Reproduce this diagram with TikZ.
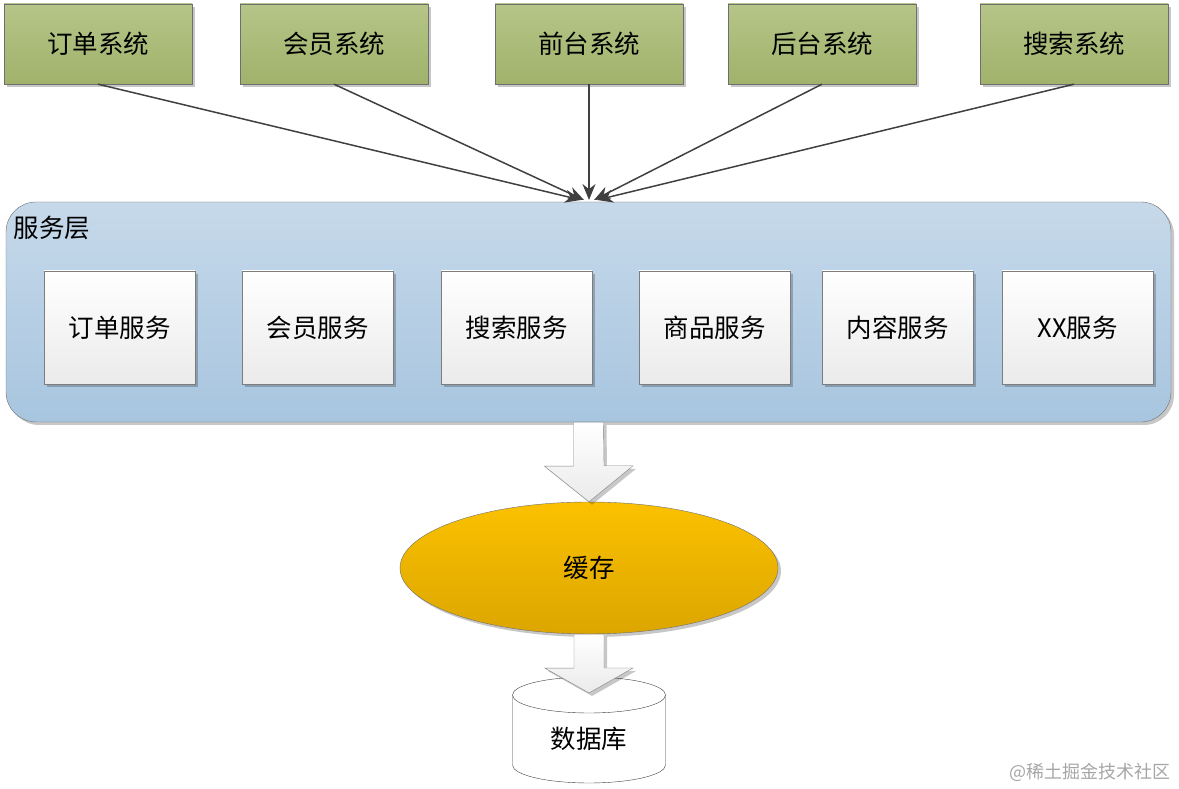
\documentclass[tikz,border=0pt]{standalone}
\usepackage{fontspec}
\setmainfont{Noto Sans CJK SC}
\usetikzlibrary{arrows.meta,shadows,calc,shapes.geometric}
\definecolor{sysgreen}{HTML}{B6C588}
\definecolor{sysgreendark}{HTML}{A0B26B}
\definecolor{layerblue}{HTML}{C6D9EA}
\definecolor{layerbluedark}{HTML}{A8C5DF}
\definecolor{cachegold}{HTML}{FBC100}
\definecolor{cachegolddark}{HTML}{DCA600}
\definecolor{linegray}{HTML}{404040}
\definecolor{edgegray}{HTML}{6E6E6E}
\newcommand{\cnfont}{\fontsize{25.5}{30}\selectfont}

\tikzset{
  softshadow/.style={drop shadow={shadow xshift=3pt,shadow yshift=-3pt,opacity=0.22,fill=black}},
  sysbox/.style={draw=edgegray,top color=sysgreen,bottom color=sysgreendark,
    minimum width=188pt,minimum height=80pt,font=\cnfont,softshadow},
  svcbox/.style={draw=edgegray!90,top color=white,bottom color=black!8,
    minimum width=151pt,minimum height=113pt,font=\cnfont,softshadow},
  layerbox/.style={draw=edgegray,rounded corners=30pt,top color=layerblue,
    bottom color=layerbluedark,minimum width=1165pt,minimum height=220pt,softshadow},
  bigarrow/.style={draw=edgegray!85,top color=white,bottom color=black!8,softshadow},
  feed/.style={draw=linegray,line width=1.5pt,-{Stealth[length=16pt,width=13pt]}}
}

\begin{document}
\begin{tikzpicture}[x=1pt,y=1pt]
\useasboundingbox (0,0) rectangle (1179,789);

% systems on top
\node[sysbox] (order)  at (98,745)   {订单系统};
\node[sysbox] (member) at (334,745)  {会员系统};
\node[sysbox] (front)  at (589,745)  {前台系统};
\node[sysbox] (back)   at (822,745)  {后台系统};
\node[sysbox] (search) at (1074,745) {搜索系统};

% service layer
\node[layerbox] (layer) at (588.5,477) {};
\node[anchor=west,font=\cnfont] (layertitle) at (10,561) {服务层};
\node[svcbox] (svcorder)   at (119.5,461.5)  {订单服务};
\node[svcbox] (svcmember)  at (317.5,461.5)  {会员服务};
\node[svcbox] (svcsearch)  at (516.5,461.5)  {搜索服务};
\node[svcbox] (svcgoods)   at (714.5,461.5)  {商品服务};
\node[svcbox] (svccontent) at (897.5,461.5)  {内容服务};
\node[svcbox] (svcxx)      at (1077.5,461.5) {XX服务};

\coordinate (hub) at (589,589);
\foreach \s/\dx in {order/-8,member/-5,front/0,back/5,search/8}
  \draw[feed] (\s.south) -- ([xshift=\dx pt]hub);

% cache
\node[draw=edgegray,ellipse,top color=cachegold,bottom color=cachegolddark,
  minimum width=378pt,minimum height=132pt,font=\cnfont,softshadow] (cache) at (589,221) {缓存};

\draw[bigarrow] ($(layer.south)+(-15,0)$) -- ++(0,-44) -- ++(-29,0) -- (cache.north)
  -- ++(44,36) -- ++(-29,0) -- ($(layer.south)+(15,0)$) -- cycle;

% database
\draw[draw=black!75,fill=white] (512.5,94) -- (512.5,24)
  arc[start angle=180,end angle=360,x radius=76.5,y radius=18] -- (665.5,94);
\draw[draw=black!75,fill=white] (589,94) ellipse[x radius=76.5,y radius=18];
\node[font=\cnfont] (db) at (589,50) {数据库};
\coordinate (dbtop) at (589,96);

\draw[bigarrow] ($(cache.south)+(-15,0)$) -- ++(0,-34) -- ++(-29,0) -- (dbtop)
  -- ++(44,25) -- ++(-29,0) -- ($(cache.south)+(15,0)$) -- cycle;

\node[anchor=east,text=black!35,font=\fontsize{18}{22}\selectfont] (mark) at (1174,17) {@稀土掘金技术社区};
\end{tikzpicture}
\end{document}
